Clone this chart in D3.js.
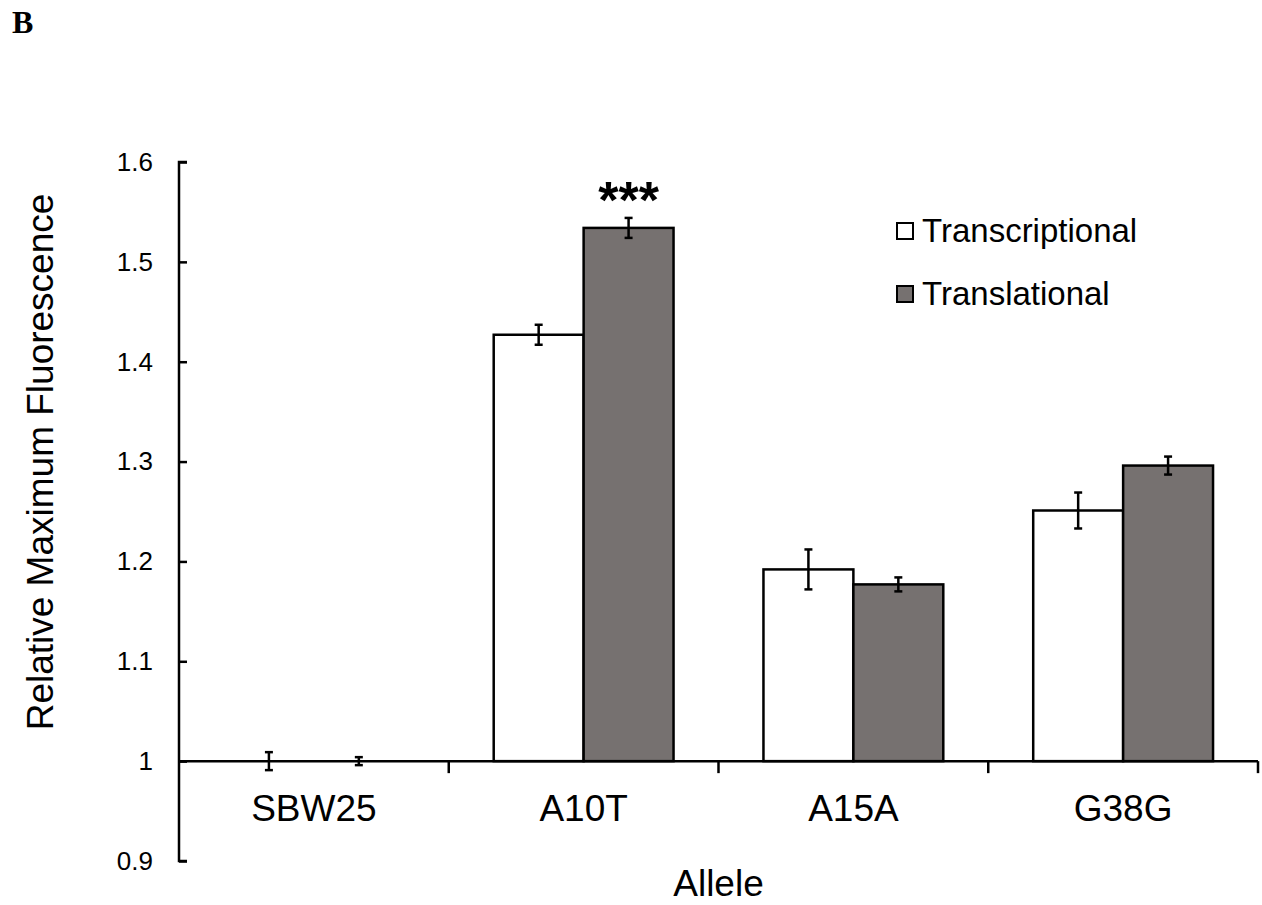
<!DOCTYPE html>
<html>
<head>
<meta charset="utf-8">
<script src="https://cdn.jsdelivr.net/npm/d3@7"></script>
<style>
  body { margin: 0; background: #fff; }
  svg { display: block; font-family: "Liberation Sans", Arial, sans-serif; }
</style>
</head>
<body>
<div id="chart"></div>
<script>
// Chart data
var alleles = ["SBW25", "A10T", "A15A", "G38G"];
var seriesNames = ["Transcriptional", "Translational"];
var transcriptional = [1.0, 1.427, 1.192, 1.251];
var transcriptionalErr = [0.009, 0.010, 0.020, 0.018];
var translational = [1.0, 1.534, 1.177, 1.296];
var translationalErr = [0.004, 0.010, 0.007, 0.009];
var yTicks = [0.9, 1, 1.1, 1.2, 1.3, 1.4, 1.5, 1.6];
var stars = [{ allele: "A10T", series: "Translational", text: "***" }];

var colors = { "Transcriptional": "#ffffff", "Translational": "#767170" };

document.addEventListener('DOMContentLoaded', function() {
    var width = 1262, height = 905;
    var margin = { top: 162, right: 4, bottom: 44, left: 179 };

    var svg = d3.select("#chart")
        .append("svg")
        .attr("width", width)
        .attr("height", height);

    // Panel letter
    svg.append("text")
        .attr("x", 12)
        .attr("y", 33)
        .style("font-family", "'Liberation Serif', 'Times New Roman', serif")
        .style("font-weight", "bold")
        .style("font-size", "32px")
        .text("B");

    var y = d3.scaleLinear()
        .domain([0.9, 1.6])
        .range([height - margin.bottom, margin.top]);

    var x0 = d3.scaleBand()
        .domain(alleles)
        .range([margin.left, width - margin.right])
        .padding(0);

    var bw = x0.bandwidth();
    var x1 = d3.scaleBand()
        .domain(seriesNames)
        .range([bw / 6, bw * 5 / 6])
        .padding(0);

    // Build rows from the arrays
    var rows = [];
    alleles.forEach(function(a, i) {
        rows.push({ allele: a, series: "Transcriptional", value: transcriptional[i], err: transcriptionalErr[i] });
        rows.push({ allele: a, series: "Translational", value: translational[i], err: translationalErr[i] });
    });

    var base = y(1);

    // Bars (drawn from 1.0)
    svg.selectAll(".bar")
        .data(rows.filter(function(d) { return d.value !== 1; }))
        .enter().append("rect")
        .attr("class", "bar")
        .attr("x", function(d) { return x0(d.allele) + x1(d.series); })
        .attr("y", function(d) { return Math.min(y(d.value), base); })
        .attr("width", x1.bandwidth())
        .attr("height", function(d) { return Math.abs(base - y(d.value)); })
        .attr("fill", function(d) { return colors[d.series]; })
        .attr("stroke", "#000")
        .attr("stroke-width", 2.5);

    // Error bars
    var eb = svg.selectAll(".err")
        .data(rows)
        .enter().append("g")
        .attr("class", "err")
        .attr("transform", function(d) {
            return "translate(" + (x0(d.allele) + x1(d.series) + x1.bandwidth() / 2) + ",0)";
        });
    eb.append("line")
        .attr("y1", function(d) { return y(d.value - d.err); })
        .attr("y2", function(d) { return y(d.value + d.err); });
    eb.append("line")
        .attr("x1", -4).attr("x2", 4)
        .attr("y1", function(d) { return y(d.value - d.err); })
        .attr("y2", function(d) { return y(d.value - d.err); });
    eb.append("line")
        .attr("x1", -4).attr("x2", 4)
        .attr("y1", function(d) { return y(d.value + d.err); })
        .attr("y2", function(d) { return y(d.value + d.err); });
    eb.selectAll("line")
        .attr("stroke", "#000")
        .attr("stroke-width", 2.5);

    // Y axis, ticks pointing inward
    var yAxis = d3.axisRight(y)
        .tickValues(yTicks)
        .tickSize(8)
        .tickFormat(function(d) { return d3.format("")(+d.toFixed(1)); });

    var gy = svg.append("g")
        .attr("transform", "translate(" + margin.left + ",0)")
        .call(yAxis);
    gy.select(".domain").attr("d", "M8," + y(1.6) + "H0V" + y(0.9) + "H8");
    gy.selectAll(".domain, .tick line").attr("stroke", "#000").attr("stroke-width", 2.5);
    gy.selectAll(".tick text")
        .attr("x", -26)
        .attr("text-anchor", "end")
        .style("font-size", "26px")
        .attr("fill", "#000");

    // Category axis at y = 1
    var xAxis = d3.axisBottom(x0).tickSize(0).tickPadding(34);
    var gx = svg.append("g")
        .attr("transform", "translate(0," + base + ")")
        .call(xAxis);
    gx.select(".domain").attr("d", "M" + margin.left + ",0H" + (width - margin.right));
    gx.selectAll(".domain").attr("stroke", "#000").attr("stroke-width", 2.5);
    gx.selectAll(".tick text")
        .style("font-size", "37px")
        .attr("fill", "#000");

    // Band separator ticks
    gx.selectAll(".sep")
        .data(alleles)
        .enter().append("line")
        .attr("class", "sep")
        .attr("x1", function(d) { return x0(d) + bw; })
        .attr("x2", function(d) { return x0(d) + bw; })
        .attr("y1", 0)
        .attr("y2", 12)
        .attr("stroke", "#000")
        .attr("stroke-width", 2.5);

    // Significance stars
    svg.selectAll(".star")
        .data(stars)
        .enter().append("text")
        .attr("class", "star")
        .attr("x", function(d) { return x0(d.allele) + x1(d.series) + x1.bandwidth() / 2; })
        .attr("y", function(d) {
            var i = alleles.indexOf(d.allele);
            return y(translational[i] + translationalErr[i]);
        })
        .attr("text-anchor", "middle")
        .style("font-size", "52px")
        .style("font-weight", "bold")
        .text(function(d) { return d.text; });

    // Axis titles
    svg.append("text")
        .attr("x", (margin.left + width - margin.right) / 2)
        .attr("y", 896)
        .attr("text-anchor", "middle")
        .style("font-size", "37px")
        .text("Allele");

    svg.append("text")
        .attr("transform", "translate(53,462) rotate(-90)")
        .attr("text-anchor", "middle")
        .style("font-size", "37px")
        .text("Relative Maximum Fluorescence");

    // Legend
    var legend = svg.selectAll(".legend")
        .data(seriesNames)
        .enter().append("g")
        .attr("class", "legend")
        .attr("transform", function(d, i) { return "translate(897," + (223 + i * 63) + ")"; });
    legend.append("rect")
        .attr("width", 16)
        .attr("height", 16)
        .attr("fill", function(d) { return colors[d]; })
        .attr("stroke", "#000")
        .attr("stroke-width", 2);
    legend.append("text")
        .attr("x", 25)
        .attr("y", 19)
        .style("font-size", "33px")
        .text(function(d) { return d; });
});
</script>
</body>
</html>
